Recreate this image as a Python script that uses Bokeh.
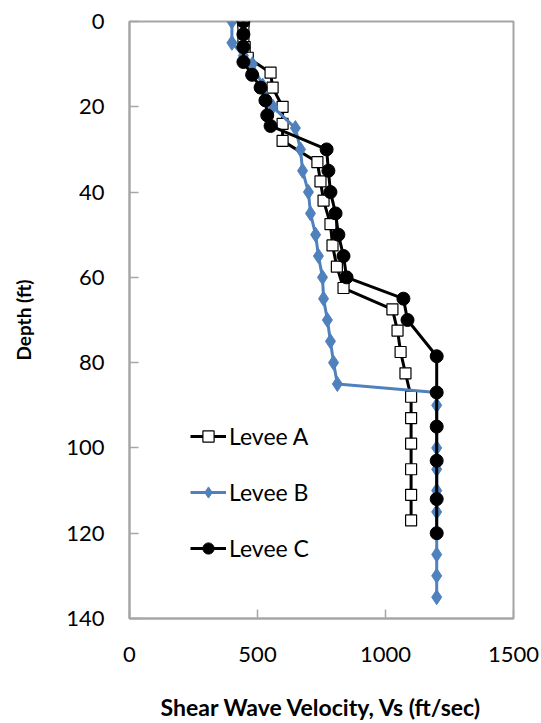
from bokeh.plotting import figure
from bokeh.models import Range1d, FixedTicker, Legend, LegendItem
from bokeh.embed import file_html
from bokeh.resources import INLINE

# Data
a_vs = [445, 445, 445, 450, 462, 551, 559, 598, 598, 598, 734, 746, 758, 785, 793, 810, 836,
        1027, 1047, 1059, 1078, 1100, 1100, 1100, 1100, 1100, 1100]
a_depth = [0, 2, 4, 6, 8.5, 12, 15.5, 20, 24, 28, 33, 37.5, 42, 47.5, 52.5, 57.5, 62.5,
           67.5, 72.5, 77.5, 82.5, 88, 93, 99, 105, 111, 117]

b_vs = [400, 400, 445, 480, 520, 560, 648, 668, 676, 699, 707, 727, 738, 754, 758, 773,
        785, 797, 812, 1200, 1200, 1200, 1200, 1200, 1200, 1200, 1200, 1200, 1200, 1200]
b_depth = [0, 5, 8, 10, 15, 20, 25, 30, 35, 40, 45, 50, 55, 60, 65, 70,
           75, 80, 85, 87, 90, 95, 100, 105, 110, 115, 120, 125, 130, 135]

c_vs = [445, 445, 445, 445, 479, 512, 531, 538, 551, 770, 777, 785, 805, 816, 836, 848,
        1070, 1086, 1200, 1200, 1200, 1200, 1200, 1200]
c_depth = [0, 3, 6, 9.5, 12.5, 15.5, 18.5, 22, 24.5, 30, 35, 40, 45, 50, 55, 60,
           65, 70, 78.5, 87, 95, 103, 112, 120]

x_ticks = [0, 500, 1000, 1500]
y_ticks = [0, 20, 40, 60, 80, 100, 120, 140]

FONT = "Lato"
BLUE = "#4F81BD"
GRAY = "#A6A6A6"

p = figure(width=541, height=723, output_backend="svg", toolbar_location=None,
           x_range=Range1d(0, 1500), y_range=Range1d(140, 0),
           min_border_left=129, min_border_right=28, min_border_top=21, min_border_bottom=103)
p.grid.visible = False
p.outline_line_color = GRAY
p.outline_line_width = 2
p.background_fill_color = "white"
p.border_fill_color = "white"

for ax in (p.xaxis[0], p.yaxis[0]):
    ax.axis_line_color = GRAY
    ax.axis_line_width = 2
    ax.major_tick_line_color = GRAY
    ax.major_tick_line_width = 1.5
    ax.major_tick_in = 9
    ax.major_tick_out = 0
    ax.minor_tick_line_color = None
    ax.major_label_text_font = FONT
    ax.major_label_text_font_size = "22px"
    ax.major_label_text_color = "black"
    ax.axis_label_text_font = FONT
    ax.axis_label_text_font_style = "bold"
    ax.axis_label_text_color = "black"

p.xaxis.axis_label_text_font_size = "23px"
p.yaxis.axis_label_text_font_size = "19px"
p.xaxis.ticker = FixedTicker(ticks=x_ticks)
p.yaxis.ticker = FixedTicker(ticks=y_ticks)
p.xaxis.axis_label = "Shear Wave Velocity, Vs (ft/sec)"
p.yaxis.axis_label = "Depth (ft)"
p.xaxis.major_label_standoff = 28
p.xaxis.axis_label_standoff = 28
p.yaxis.major_label_standoff = 25
p.yaxis.axis_label_standoff = 28

la = p.line(a_vs, a_depth, line_color="black", line_width=3)
sa = p.scatter(a_vs, a_depth, marker="square", size=11, fill_color="white",
               line_color="black", line_width=1.2)
lb = p.line(b_vs, b_depth, line_color=BLUE, line_width=3)
sb = p.scatter(b_vs, b_depth, marker="diamond", size=15, fill_color=BLUE, line_color=BLUE)
lc = p.line(c_vs, c_depth, line_color="black", line_width=3)
sc = p.scatter(c_vs, c_depth, marker="circle", size=13, fill_color="black", line_color="black")

legend = Legend(items=[LegendItem(label="Levee A", renderers=[la, sa]),
                       LegendItem(label="Levee B", renderers=[lb, sb]),
                       LegendItem(label="Levee C", renderers=[lc, sc])],
                location=(61, 56), orientation="vertical")
legend.background_fill_alpha = 0
legend.border_line_color = None
legend.padding = 0
legend.margin = 0
legend.spacing = 28
legend.glyph_width = 36
legend.glyph_height = 28
legend.label_height = 28
legend.label_standoff = 3
legend.label_text_font = FONT
legend.label_text_font_size = "23px"
legend.label_text_color = "black"
p.add_layout(legend, "center")

open("out.html", "w").write(file_html(p, INLINE))
